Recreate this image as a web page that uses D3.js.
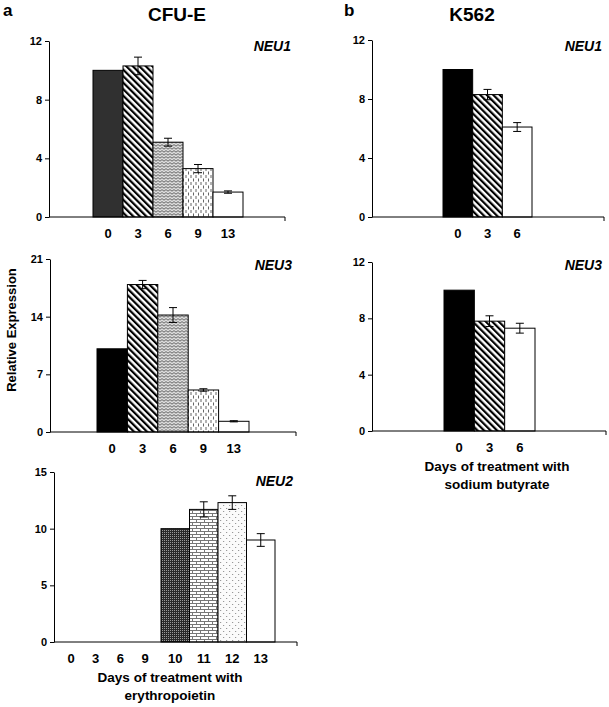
<!DOCTYPE html>
<html>
<head>
<meta charset="utf-8">
<title>Relative expression</title>
<script src="https://cdn.jsdelivr.net/npm/d3@7"></script>
<style>
  body { margin: 0; background: #fff; }
  text { font-family: "Liberation Sans", Arial, sans-serif; font-weight: bold; fill: #000; }
  .tick text { font-size: 11px; }
  .gene { font-style: italic; font-size: 14px; }
</style>
</head>
<body>
<script>
  // ---- data ----
  var cfuDays = ["0", "3", "6", "9", "13"];
  var cfuNeu1 = [10, 10.3, 5.1, 3.3, 1.7];
  var cfuNeu1Err = [0, 0.6, 0.27, 0.28, 0.08];
  var cfuNeu3 = [10.1, 17.9, 14.2, 5.1, 1.3];
  var cfuNeu3Err = [0, 0.5, 0.9, 0.15, 0.07];

  var epoEmptyDays = ["0", "3", "6", "9"];
  var epoDays = ["10", "11", "12", "13"];
  var cfuNeu2 = [10, 11.7, 12.3, 9.0];
  var cfuNeu2Err = [0, 0.67, 0.6, 0.56];

  var k562Days = ["0", "3", "6"];
  var k562Neu1 = [10, 8.3, 6.1];
  var k562Neu1Err = [0, 0.35, 0.3];
  var k562Neu3 = [10, 7.8, 7.3];
  var k562Neu3Err = [0, 0.38, 0.35];

  var ticksNeu1 = [0, 4, 8, 12];
  var ticksNeu3 = [0, 7, 14, 21];
  var ticksNeu2 = [0, 5, 10, 15];
  var ticksK562 = [0, 4, 8, 12];

  var w = 609, h = 707;

  var svg = d3.select("body").append("svg")
    .attr("width", w)
    .attr("height", h);

  // ---- fill patterns ----
  var defs = svg.append("defs");

  var stripes = defs.append("pattern")
    .attr("id", "stripes").attr("patternUnits", "userSpaceOnUse")
    .attr("width", 4.6).attr("height", 4.6)
    .attr("patternTransform", "rotate(-45)");
  stripes.append("rect").attr("width", 4.6).attr("height", 4.6).attr("fill", "#fff");
  stripes.append("rect").attr("width", 2.2).attr("height", 4.6).attr("fill", "#000");

  var zigzag = defs.append("pattern")
    .attr("id", "zigzag").attr("patternUnits", "userSpaceOnUse")
    .attr("width", 4).attr("height", 3);
  zigzag.append("rect").attr("width", 4).attr("height", 3).attr("fill", "#dcdcdc");
  zigzag.append("path").attr("d", "M0,2.2 L2,0.6 L4,2.2")
    .attr("fill", "none").attr("stroke", "#555").attr("stroke-width", 0.9);

  var dashes = defs.append("pattern")
    .attr("id", "dashes").attr("patternUnits", "userSpaceOnUse")
    .attr("width", 5).attr("height", 7);
  dashes.append("rect").attr("width", 5).attr("height", 7).attr("fill", "#fff");
  dashes.append("path").attr("d", "M1,0 V3 M3.5,3.5 V6.5")
    .attr("stroke", "#555").attr("stroke-width", 0.9);

  var checker = defs.append("pattern")
    .attr("id", "checker").attr("patternUnits", "userSpaceOnUse")
    .attr("width", 2).attr("height", 2);
  checker.append("rect").attr("width", 2).attr("height", 2).attr("fill", "#2a2a2a");
  checker.append("rect").attr("width", 1).attr("height", 1).attr("fill", "#9a9a9a");

  var brick = defs.append("pattern")
    .attr("id", "brick").attr("patternUnits", "userSpaceOnUse")
    .attr("width", 8).attr("height", 6);
  brick.append("rect").attr("width", 8).attr("height", 6).attr("fill", "#fff");
  brick.append("path").attr("d", "M0,0.5 H8 M0,3.5 H8 M0.5,0.5 V3.5 M4.5,3.5 V6.5")
    .attr("stroke", "#777").attr("stroke-width", 1);

  var dots = defs.append("pattern")
    .attr("id", "dots").attr("patternUnits", "userSpaceOnUse")
    .attr("width", 6).attr("height", 6);
  dots.append("rect").attr("width", 6).attr("height", 6).attr("fill", "#fbfbfb");
  dots.append("path").attr("d", "M1,1 h1.2 v1 h-1.2 z M4,4 h1.2 v1 h-1.2 z")
    .attr("fill", "#999");

  var fillsCfu = ["#303030", "url(#stripes)", "url(#zigzag)", "url(#dashes)", "#fff"];
  var fillsCfu3 = ["#000", "url(#stripes)", "url(#zigzag)", "url(#dashes)", "#fff"];
  var fillsEpo = ["url(#checker)", "url(#brick)", "url(#dots)", "#fff"];
  var fillsK562 = ["#000", "url(#stripes)", "#fff"];

  function drawPanel(p) {
    var g = svg.append("g");

    var y = d3.scaleLinear()
      .domain([0, d3.max(p.ticks)])
      .range([p.bottom, p.top]);

    var x = d3.scaleBand()
      .domain(p.days)
      .range([p.barStart, p.barEnd])
      .padding(0);

    var yAxis = d3.axisLeft(y).tickValues(p.ticks).tickSize(4).tickSizeOuter(0).tickPadding(3);
    var ay = g.append("g")
      .attr("transform", "translate(" + p.ax + ",0)")
      .call(yAxis);
    ay.select(".domain").attr("stroke", "#000");
    ay.selectAll(".tick line").attr("stroke", "#000");

    // bars
    g.selectAll("rect.bar")
      .data(p.values)
      .enter().append("rect")
      .attr("class", "bar")
      .attr("x", function (d, i) { return x(p.days[i]); })
      .attr("y", function (d) { return y(d); })
      .attr("width", x.bandwidth())
      .attr("height", function (d) { return y(0) - y(d); })
      .attr("fill", function (d, i) { return p.fills[i]; })
      .attr("stroke", "#000")
      .attr("stroke-width", 1);

    // error bars
    var eb = g.selectAll("g.err")
      .data(p.values.map(function (v, i) { return { v: v, e: p.errs[i], day: p.days[i] }; })
        .filter(function (d) { return d.e > 0; }))
      .enter().append("g")
      .attr("class", "err");
    var cx = function (d) { return x(d.day) + x.bandwidth() / 2; };
    eb.append("line")
      .attr("x1", cx).attr("x2", cx)
      .attr("y1", function (d) { return y(d.v + d.e); })
      .attr("y2", function (d) { return y(d.v - d.e); })
      .attr("stroke", "#000");
    [1, -1].forEach(function (s) {
      eb.append("line")
        .attr("x1", function (d) { return cx(d) - 4; })
        .attr("x2", function (d) { return cx(d) + 4; })
        .attr("y1", function (d) { return y(d.v + s * d.e); })
        .attr("y2", function (d) { return y(d.v + s * d.e); })
        .attr("stroke", "#000");
    });

    // x axis line
    g.append("path")
      .attr("d", "M" + p.ax + "," + y(0) + "H" + p.xEnd + "v4")
      .attr("fill", "none")
      .attr("stroke", "#000");

    // category labels
    g.selectAll("text.day")
      .data(p.days)
      .enter().append("text")
      .attr("class", "day")
      .attr("x", function (d) { return x(d) + x.bandwidth() / 2; })
      .attr("y", y(0) + 21)
      .attr("text-anchor", "middle")
      .style("font-size", "13px")
      .text(function (d) { return d; });

    if (p.emptyDays) {
      var xe = d3.scalePoint().domain(p.emptyDays).range(p.emptyRange);
      g.selectAll("text.eday")
        .data(p.emptyDays)
        .enter().append("text")
        .attr("x", function (d) { return xe(d); })
        .attr("y", y(0) + 21)
        .attr("text-anchor", "middle")
        .style("font-size", "13px")
        .text(function (d) { return d; });
    }

    g.append("text")
      .attr("class", "gene")
      .attr("x", p.geneX)
      .attr("y", p.geneY)
      .attr("text-anchor", "end")
      .text(p.gene);

    if (p.xTitle) {
      g.selectAll("text.xt")
        .data(p.xTitle)
        .enter().append("text")
        .attr("x", p.xTitleX)
        .attr("y", function (d, i) { return y(0) + 40 + i * 17.5; })
        .attr("text-anchor", "middle")
        .style("font-size", "13.5px")
        .text(function (d) { return d; });
    }
  }

  drawPanel({ days: cfuDays, values: cfuNeu1, errs: cfuNeu1Err, ticks: ticksNeu1, fills: fillsCfu,
    ax: 49, top: 41, bottom: 217, xEnd: 285, barStart: 93, barEnd: 243,
    gene: "NEU1", geneX: 291, geneY: 51 });

  drawPanel({ days: cfuDays, values: cfuNeu3, errs: cfuNeu3Err, ticks: ticksNeu3, fills: fillsCfu3,
    ax: 50, top: 259, bottom: 432, xEnd: 296, barStart: 97, barEnd: 249,
    gene: "NEU3", geneX: 292, geneY: 270 });

  drawPanel({ days: epoDays, values: cfuNeu2, errs: cfuNeu2Err, ticks: ticksNeu2, fills: fillsEpo,
    ax: 54, top: 472, bottom: 642, xEnd: 297, barStart: 161, barEnd: 275,
    emptyDays: epoEmptyDays, emptyRange: [71, 145],
    gene: "NEU2", geneX: 293, geneY: 486,
    xTitle: ["Days of treatment with", "erythropoietin"], xTitleX: 170 });

  drawPanel({ days: k562Days, values: k562Neu1, errs: k562Neu1Err, ticks: ticksK562, fills: fillsK562,
    ax: 372, top: 40, bottom: 217, xEnd: 604, barStart: 443, barEnd: 532,
    gene: "NEU1", geneX: 602, geneY: 51 });

  drawPanel({ days: k562Days, values: k562Neu3, errs: k562Neu3Err, ticks: ticksK562, fills: fillsK562,
    ax: 372, top: 262, bottom: 431, xEnd: 606, barStart: 444, barEnd: 535,
    gene: "NEU3", geneX: 602, geneY: 270,
    xTitle: ["Days of treatment with", "sodium butyrate"], xTitleX: 497 });

  // panel headings
  svg.append("text").attr("x", 3).attr("y", 16).style("font-size", "17px").text("a");
  svg.append("text").attr("x", 177).attr("y", 21).attr("text-anchor", "middle")
    .style("font-size", "19px").text("CFU-E");
  svg.append("text").attr("x", 344).attr("y", 16).style("font-size", "17px").text("b");
  svg.append("text").attr("x", 472).attr("y", 21).attr("text-anchor", "middle")
    .style("font-size", "19px").text("K562");

  svg.append("text")
    .attr("transform", "translate(16,330) rotate(-90)")
    .attr("text-anchor", "middle")
    .style("font-size", "13px")
    .text("Relative Expression");
</script>
</body>
</html>
